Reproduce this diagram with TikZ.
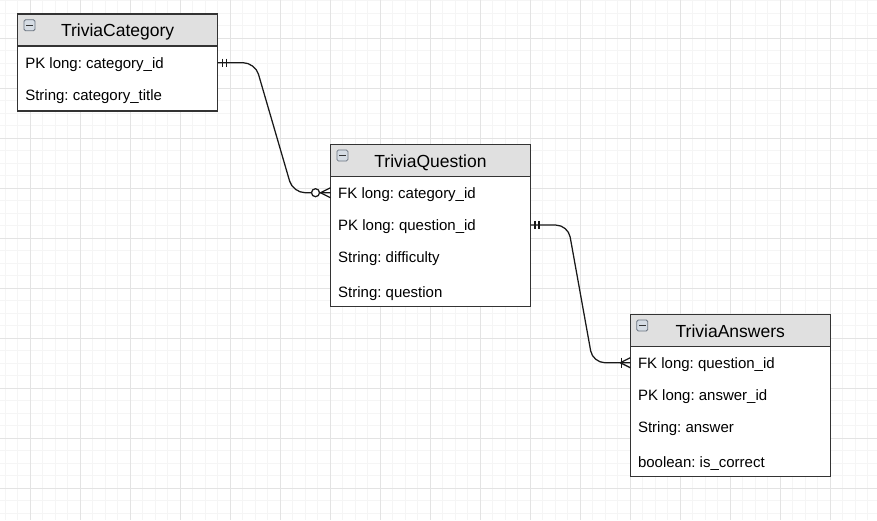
\documentclass[tikz,border=0pt]{standalone}
\usepackage{fontspec}
\setmainfont{Liberation Sans}
\usetikzlibrary{calc}
\frenchspacing
\definecolor{gmaj}{HTML}{E3E3E3}
\definecolor{gmin}{HTML}{F5F5F5}
\definecolor{hdrfill}{HTML}{E0E0E0}
\definecolor{edge}{HTML}{333333}
\definecolor{iconfill}{HTML}{D5DCE4}
\definecolor{iconedge}{HTML}{6A7480}
\begin{document}
\begin{tikzpicture}[x=1pt,y=-1pt,
  minorgrid/.style={draw=gmin,line width=0.8pt},
  majorgrid/.style={draw=gmaj,line width=0.9pt},
  hdr/.style={draw=edge,fill=hdrfill,line width=1.2pt,inner sep=0pt,outer sep=0pt,
    minimum width=200,minimum height=32,anchor=north west},
  bodyb/.style={draw=edge,fill=white,line width=1.2pt,inner sep=0pt,outer sep=0pt,
    minimum width=200,anchor=north west},
  hdrtxt/.style={font=\fontsize{17.5}{21}\selectfont,inner sep=0pt,anchor=base},
  rowtxt/.style={font=\fontsize{15}{18}\selectfont,inner sep=0pt,anchor=base west},
  iconbox/.style={draw=iconedge,fill=iconfill,line width=0.8pt,rounded corners=1.5pt,
    minimum width=11,minimum height=11,inner sep=0pt,anchor=north west},
  iconbar/.style={draw=edge,line width=1.4pt},
  conn/.style={draw=black!90,line width=1.25pt,rounded corners=12pt},
  ermark/.style={draw=black!90,line width=1.25pt}
]
\useasboundingbox (0,0) rectangle (877,520);
\fill[white] (0,0) rectangle (877,520);
% grid
\foreach \x in {5.3,17.8,...,877} \draw[minorgrid] (\x,0) -- (\x,520);
\foreach \y in {0.8,13.3,...,520} \draw[minorgrid] (0,\y) -- (877,\y);
\foreach \x in {30.3,80.3,...,877} \draw[majorgrid] (\x,0) -- (\x,520);
\foreach \y in {38.3,88.3,...,520} \draw[majorgrid] (0,\y) -- (877,\y);

% ---------- TriviaCategory ----------
\node[hdr] (cath) at (17.6,14) {};
\node[bodyb,minimum height=65] (catb) at (cath.south west) {};
\node[iconbox] (cati) at ($(cath.north west)+(6,5.3)$) {};
\draw[iconbar] ($(cati.west)+(2.5,0)$) -- ($(cati.east)+(-2.5,0)$);
\node[hdrtxt] (catt) at ($(cath.north)+(0,22.7)$) {TriviaCategory};
\node[rowtxt] (catpk) at ($(catb.north west)+(7.5,22.3)$) {PK long: category\_id};
\node[rowtxt] (catti) at ($(catb.north west)+(7.5,54.7)$) {String: category\_title};

% ---------- TriviaQuestion ----------
\node[hdr] (qh) at (330.5,144.3) {};
\node[bodyb,minimum height=130] (qb) at (qh.south west) {};
\node[iconbox] (qi) at ($(qh.north west)+(6,5.3)$) {};
\draw[iconbar] ($(qi.west)+(2.5,0)$) -- ($(qi.east)+(-2.5,0)$);
\node[hdrtxt] (qt) at ($(qh.north)+(0,23)$) {TriviaQuestion};
\node[rowtxt] (qfk) at ($(qb.north west)+(7.5,22)$) {FK long: category\_id};
\node[rowtxt] (qpk) at ($(qb.north west)+(7.5,54.4)$) {PK long: question\_id};
\node[rowtxt] (qdif) at ($(qb.north west)+(7.5,86.4)$) {String: difficulty};
\node[rowtxt] (qq) at ($(qb.north west)+(7.5,121.4)$) {String: question};

% ---------- TriviaAnswers ----------
\node[hdr] (ah) at (630.3,314.3) {};
\node[bodyb,minimum height=130] (ab) at (ah.south west) {};
\node[iconbox] (ai) at ($(ah.north west)+(6,5.3)$) {};
\draw[iconbar] ($(ai.west)+(2.5,0)$) -- ($(ai.east)+(-2.5,0)$);
\node[hdrtxt] (at) at ($(ah.north)+(0,23)$) {TriviaAnswers};
\node[rowtxt] (afk) at ($(ab.north west)+(7.5,22)$) {FK long: question\_id};
\node[rowtxt] (apk) at ($(ab.north west)+(7.5,54.4)$) {PK long: answer\_id};
\node[rowtxt] (aans) at ($(ab.north west)+(7.5,86.4)$) {String: answer};
\node[rowtxt] (acor) at ($(ab.north west)+(7.5,121.4)$) {boolean: is\_correct};

% ---------- connector 1: category -> question ----------
\coordinate (e1s) at ($(catb.east |- catpk.base)+(0,-5.6)$);
\coordinate (e1t) at ($(qb.west |- qfk.base)+(0,-5.6)$);
\draw[conn] (e1s) -- ($(e1s)+(37.5,0)$) -- ($(e1t)+(-37.5,0)$) -- (e1t);
\draw[ermark] ($(e1s)+(4.6,-4.2)$) -- ($(e1s)+(4.6,4.2)$);
\draw[ermark] ($(e1s)+(8.9,-4.2)$) -- ($(e1s)+(8.9,4.2)$);
\draw[ermark] ($(e1t)+(-10,0)$) -- ($(e1t)+(0,-5)$);
\draw[ermark] ($(e1t)+(-10,0)$) -- ($(e1t)+(0,5)$);
\draw[ermark,fill=white] ($(e1t)+(-15,0)$) circle[radius=4];

% ---------- connector 2: question -> answers ----------
\coordinate (e2s) at ($(qb.east |- qpk.base)+(0,-5.6)$);
\coordinate (e2t) at ($(ab.west |- afk.base)+(0,-5.6)$);
\draw[conn] (e2s) -- ($(e2s)+(37.5,0)$) -- ($(e2t)+(-37.5,0)$) -- (e2t);
\draw[ermark] ($(e2s)+(4.4,-4.2)$) -- ($(e2s)+(4.4,4.2)$);
\draw[ermark] ($(e2s)+(8.6,-4.2)$) -- ($(e2s)+(8.6,4.2)$);
\draw[ermark] ($(e2t)+(-10,0)$) -- ($(e2t)+(0,-5)$);
\draw[ermark] ($(e2t)+(-10,0)$) -- ($(e2t)+(0,5)$);
\draw[ermark] ($(e2t)+(-9,-5)$) -- ($(e2t)+(-9,5)$);
\end{tikzpicture}
\end{document}
